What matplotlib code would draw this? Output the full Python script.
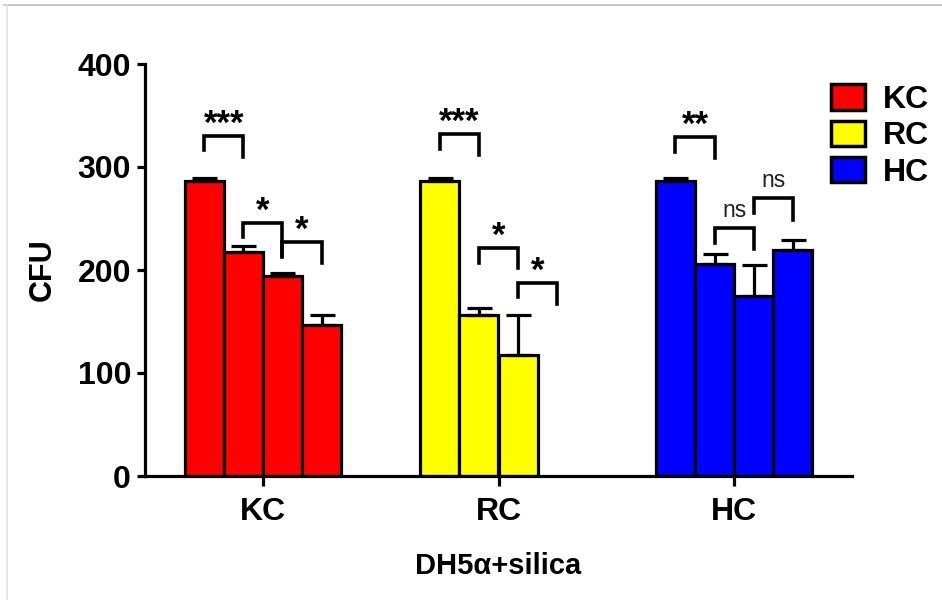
import numpy as np
import matplotlib
matplotlib.use('Agg')
import matplotlib.pyplot as plt
from matplotlib.lines import Line2D

plt.rcParams['font.family'] = ['Liberation Sans', 'DejaVu Sans']

groups = ['KC', 'RC', 'HC']
series_names = ['KC', 'RC', 'HC']
colors = ['#ff0000', '#ffff00', '#0000ff']

# CFU per bar in each group, and upper error (SEM)
kc_vals = [286, 217, 194.5, 147]
kc_err = [3, 6, 3, 9.5]
rc_vals = [286, 156, 117.5]
rc_err = [3, 7, 38.5]
hc_vals = [286, 206, 175, 219.5]
hc_err = [3, 10, 30, 10]

# significance brackets: group, bar a, bar b, top, left end, right end, label
sig_group = [0, 0, 0, 1, 1, 1, 2, 2, 2]
sig_a = [0, 1, 2, 0, 1, 2, 0, 1, 2]
sig_b = [1, 2, 3, 1, 2, 3, 1, 2, 3]
sig_top = [330, 245.5, 227.5, 332, 221, 187, 329, 240.5, 269.5]
sig_left = [316.5, 232, 213.5, 317.5, 207, 174, 315, 226, 255.5]
sig_right = [310, 213, 207, 311.5, 202, 167, 308.5, 220, 249]
sig_text = ['***', '*', '*', '***', '*', '*', '**', 'ns', 'ns']

vals = [kc_vals, rc_vals, hc_vals]
errs = [kc_err, rc_err, hc_err]

fig = plt.figure(figsize=(9.42, 6), dpi=100)
ax = fig.add_axes([145 / 942, 1 - 476 / 600, 707 / 942, 412 / 600])

bar_w = 0.166
offsets = (np.arange(4) - 1.5) * bar_w

for g in range(3):
    n = len(vals[g])
    x = g + offsets[:n]
    ax.bar(x, vals[g], width=bar_w, color=colors[g], edgecolor='black',
           linewidth=2.3, zorder=2)
    ax.errorbar(x, vals[g], yerr=[np.zeros(n), errs[g]], fmt='none',
                ecolor='black', elinewidth=2.3, capsize=9, capthick=2.3,
                zorder=3)

for k in range(len(sig_text)):
    xa = sig_group[k] + offsets[sig_a[k]]
    xb = sig_group[k] + offsets[sig_b[k]]
    ax.plot([xa, xa, xb, xb], [sig_left[k], sig_top[k], sig_top[k], sig_right[k]],
            color='black', lw=2.6, solid_joinstyle='miter', zorder=4,
            clip_on=False)
    if sig_text[k] == 'ns':
        ax.text((xa + xb) / 2, sig_top[k] + 11, 'ns', ha='center',
                va='baseline', fontsize=16.5, color='#222222')
    else:
        ax.text((xa + xb) / 2, sig_top[k] + 2, sig_text[k], ha='center',
                va='baseline', fontsize=25, fontweight='bold')

ax.set_xlim(-0.5, 2.5)
ax.set_ylim(0, 400)
ax.set_yticks([0, 100, 200, 300, 400])
ax.set_xticks([0, 1, 2])
ax.set_xticklabels(groups)
ax.spines['top'].set_visible(False)
ax.spines['right'].set_visible(False)
for s in ['left', 'bottom']:
    ax.spines[s].set_linewidth(2.3)
ax.tick_params(axis='y', length=6, width=2.3, pad=4, labelsize=23)
ax.tick_params(axis='x', length=7, width=2.3, pad=8, labelsize=23)
for lab in ax.get_xticklabels() + ax.get_yticklabels():
    lab.set_fontweight('bold')

ax.set_ylabel('CFU', fontsize=22, fontweight='bold', labelpad=14)
ax.set_xlabel('DH5α+silica', fontsize=21, fontweight='bold', labelpad=18)

handles = [plt.Rectangle((0, 0), 1, 1, facecolor=c, edgecolor='black', linewidth=2.5)
           for c in colors]
fig.legend(handles, series_names, loc='upper left',
           bbox_to_anchor=(809 / 942, 1 - 62 / 600), frameon=False,
           prop={'size': 23, 'weight': 'bold'}, handlelength=1.05,
           handleheight=0.85, labelspacing=0.17, handletextpad=0.55,
           borderpad=0.2)

# thin grey frame of the original screenshot
fig.add_artist(Line2D([4 / 942, 1], [1 - 5 / 600, 1 - 5 / 600], color='#bdbdbd', lw=1.2))
fig.add_artist(Line2D([6.5 / 942, 6.5 / 942], [0, 1 - 5 / 600], color='#e2e2e2', lw=1.2))

fig.savefig('out.png', dpi=100)
